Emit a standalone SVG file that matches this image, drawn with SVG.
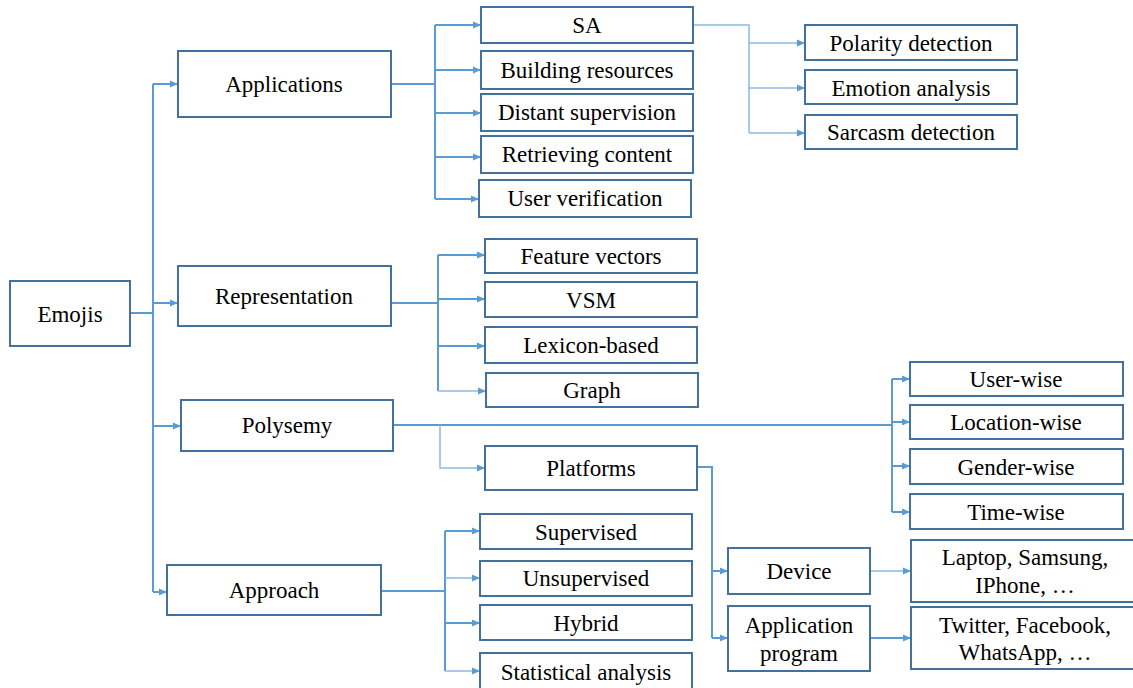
<svg xmlns="http://www.w3.org/2000/svg" width="1133" height="688" viewBox="0 0 1133 688">
<style>
.box{fill:#fff;stroke:#41719C;stroke-width:2}
.c{fill:none;stroke:#5B9BD5;stroke-width:2}
.l{fill:none;stroke:#8DB8E2;stroke-width:1.5}
.a{marker-end:url(#arr)}
text{font-family:"Liberation Serif",serif !important}
</style>
<defs>
<marker id="arr" markerUnits="userSpaceOnUse" markerWidth="8" markerHeight="8" refX="8" refY="4" orient="auto">
<path d="M0,0.5 L8,4 L0,7.5 Z" fill="#5B9BD5"/>
</marker>
</defs>
<rect width="1133" height="688" fill="#fff"/>
<g id="connectors">
<path class="c" d="M130,313 H153 M153,84 V592"/>
<path class="c a" d="M153,84 H178"/>
<path class="c a" d="M153,303 H178"/>
<path class="c a" d="M153,426 H181"/>
<path class="c a" d="M153,592 H167"/>
<path class="c" d="M391,84 H435 M435,25 V199"/>
<path class="c a" d="M435,25 H481"/>
<path class="c a" d="M435,70 H481"/>
<path class="c a" d="M435,113 H481"/>
<path class="c a" d="M435,157 H481"/>
<path class="c a" d="M435,199 H479"/>
<path class="l" d="M693,25 H749 V133"/>
<path class="l a" d="M749,43 H805"/>
<path class="l a" d="M749,88 H805"/>
<path class="l a" d="M749,133 H805"/>
<path class="c" d="M391,303 H438 M438,255 V391"/>
<path class="c a" d="M438,255 H485"/>
<path class="c a" d="M438,299 H485"/>
<path class="c a" d="M438,346 H485"/>
<path class="l a" d="M438,391 H486"/>
<path class="c" d="M393,425 H892 M892,379 V512"/>
<path class="c a" d="M892,379 H910"/>
<path class="c a" d="M892,422 H910"/>
<path class="c a" d="M892,466 H910"/>
<path class="c a" d="M892,512 H910"/>
<path class="l a" d="M440,425 V468 H485"/>
<path class="c" d="M697,467 H712 V638"/>
<path class="c a" d="M712,571 H728"/>
<path class="c a" d="M712,638 H728"/>
<path class="l a" d="M870,571 H911"/>
<path class="c a" d="M870,638 H911"/>
<path class="c" d="M381,591 H445 M445,531 V671"/>
<path class="c a" d="M445,531 H480"/>
<path class="l a" d="M445,578 H480"/>
<path class="c a" d="M445,623 H480"/>
<path class="l a" d="M445,671 H480"/>
</g>
<g id="nodes" font-family="Liberation Serif" font-size="23" fill="#000" text-anchor="middle">
<g id="emojis"><rect class="box" x="10" y="281" width="120" height="65"/><text style="font-family:'Liberation Serif',serif" x="70" y="322">Emojis</text></g>
<g id="applications"><rect class="box" x="178" y="51" width="213" height="66"/><text style="font-family:'Liberation Serif',serif" x="284" y="92">Applications</text></g>
<g id="representation"><rect class="box" x="178" y="266" width="213" height="60"/><text style="font-family:'Liberation Serif',serif" x="284" y="304">Representation</text></g>
<g id="polysemy"><rect class="box" x="181" y="400" width="212" height="51"/><text style="font-family:'Liberation Serif',serif" x="287" y="433">Polysemy</text></g>
<g id="approach"><rect class="box" x="167" y="565" width="214" height="50"/><text style="font-family:'Liberation Serif',serif" x="274" y="598">Approach</text></g>
<g id="sa"><rect class="box" x="481" y="7" width="212" height="36"/><text style="font-family:'Liberation Serif',serif" x="587" y="33">SA</text></g>
<g id="building"><rect class="box" x="481" y="51" width="212" height="38"/><text style="font-family:'Liberation Serif',serif" x="587" y="78">Building resources</text></g>
<g id="distant"><rect class="box" x="481" y="94" width="212" height="37"/><text style="font-family:'Liberation Serif',serif" x="587" y="120">Distant supervision</text></g>
<g id="retrieving"><rect class="box" x="481" y="136" width="212" height="37"/><text style="font-family:'Liberation Serif',serif" x="587" y="162">Retrieving content</text></g>
<g id="userverif"><rect class="box" x="479" y="180" width="212" height="37"/><text style="font-family:'Liberation Serif',serif" x="585" y="206">User verification</text></g>
<g id="polarity"><rect class="box" x="805" y="25" width="212" height="35"/><text style="font-family:'Liberation Serif',serif" x="911" y="51">Polarity detection</text></g>
<g id="emotion"><rect class="box" x="805" y="70" width="212" height="34"/><text style="font-family:'Liberation Serif',serif" x="911" y="96">Emotion analysis</text></g>
<g id="sarcasm"><rect class="box" x="805" y="115" width="212" height="34"/><text style="font-family:'Liberation Serif',serif" x="911" y="140">Sarcasm detection</text></g>
<g id="feature"><rect class="box" x="485" y="239" width="212" height="34"/><text style="font-family:'Liberation Serif',serif" x="591" y="264">Feature vectors</text></g>
<g id="vsm"><rect class="box" x="485" y="282" width="212" height="35"/><text style="font-family:'Liberation Serif',serif" x="591" y="308">VSM</text></g>
<g id="lexicon"><rect class="box" x="485" y="327" width="212" height="36"/><text style="font-family:'Liberation Serif',serif" x="591" y="353">Lexicon-based</text></g>
<g id="graph"><rect class="box" x="486" y="373" width="212" height="34"/><text style="font-family:'Liberation Serif',serif" x="592" y="398">Graph</text></g>
<g id="platforms"><rect class="box" x="485" y="446" width="212" height="44"/><text style="font-family:'Liberation Serif',serif" x="591" y="476">Platforms</text></g>
<g id="userwise"><rect class="box" x="910" y="362" width="213" height="34"/><text style="font-family:'Liberation Serif',serif" x="1016" y="387">User-wise</text></g>
<g id="locationwise"><rect class="box" x="910" y="405" width="213" height="34"/><text style="font-family:'Liberation Serif',serif" x="1016" y="430">Location-wise</text></g>
<g id="genderwise"><rect class="box" x="910" y="449" width="213" height="35"/><text style="font-family:'Liberation Serif',serif" x="1016" y="475">Gender-wise</text></g>
<g id="timewise"><rect class="box" x="910" y="494" width="213" height="35"/><text style="font-family:'Liberation Serif',serif" x="1016" y="520">Time-wise</text></g>
<g id="supervised"><rect class="box" x="480" y="514" width="212" height="35"/><text style="font-family:'Liberation Serif',serif" x="586" y="540">Supervised</text></g>
<g id="unsupervised"><rect class="box" x="480" y="561" width="212" height="35"/><text style="font-family:'Liberation Serif',serif" x="586" y="586">Unsupervised</text></g>
<g id="hybrid"><rect class="box" x="480" y="605" width="212" height="35"/><text style="font-family:'Liberation Serif',serif" x="586" y="631">Hybrid</text></g>
<g id="statistical"><rect class="box" x="480" y="653" width="212" height="40"/><text style="font-family:'Liberation Serif',serif" x="586" y="680">Statistical analysis</text></g>
<g id="device"><rect class="box" x="728" y="548" width="142" height="46"/><text style="font-family:'Liberation Serif',serif" x="799" y="579">Device</text></g>
<g id="appprogram"><rect class="box" x="728" y="606" width="142" height="65"/><text style="font-family:'Liberation Serif',serif" x="799" y="633">Application</text><text style="font-family:'Liberation Serif',serif" x="799" y="661">program</text></g>
<g id="laptop"><rect class="box" x="911" y="540" width="232" height="62"/><text style="font-family:'Liberation Serif',serif" x="1025" y="565">Laptop, Samsung,</text><text style="font-family:'Liberation Serif',serif" x="1025" y="593">IPhone, …</text></g>
<g id="twitter"><rect class="box" x="911" y="607" width="232" height="62"/><text style="font-family:'Liberation Serif',serif" x="1025" y="633">Twitter, Facebook,</text><text style="font-family:'Liberation Serif',serif" x="1025" y="660">WhatsApp, …</text></g>
</g>
</svg>
